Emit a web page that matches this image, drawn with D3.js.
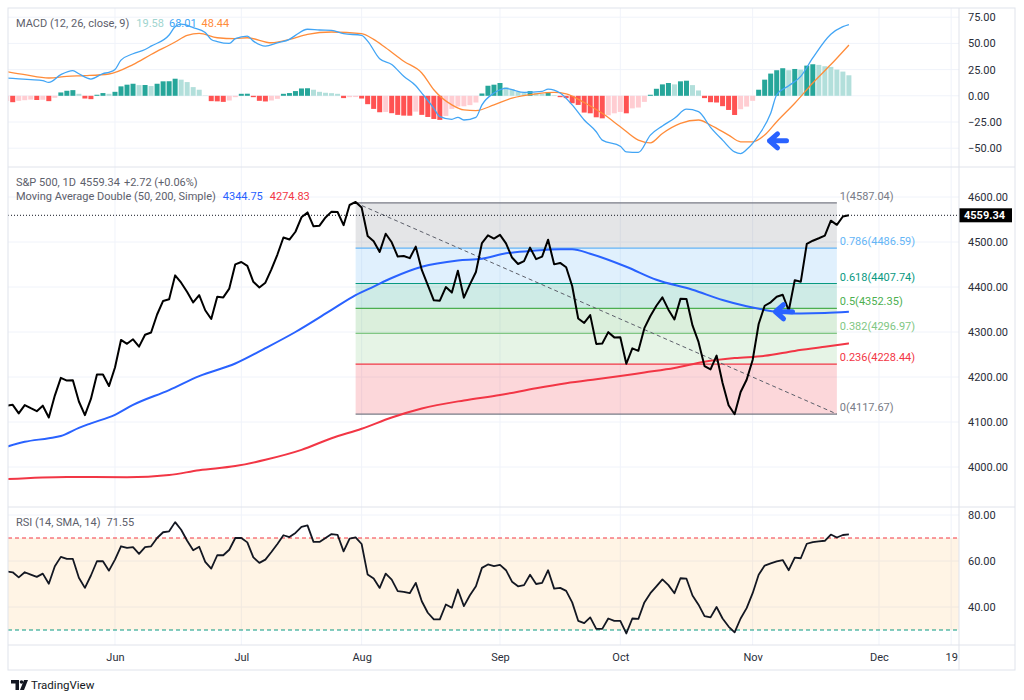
<!DOCTYPE html>
<html>
<head>
<meta charset="utf-8">
<script src="https://cdn.jsdelivr.net/npm/d3@7"></script>
<style>
  body { margin: 0; background: #fff; }
  svg text { font-family: Roboto, "Liberation Sans", sans-serif; }
</style>
</head>
<body>
<div class="chart"></div>
<script>
// Data: one bar per trading day, bar 0 = 2023-05-05, bar 140 = 2023-11-24
var closes = [
  4136.25, 4138.12, 4119.17, 4137.64, 4130.62, 4124.08, 4136.28, 4109.90, 4158.77, 4198.05,
  4191.98, 4192.63, 4145.58, 4115.24, 4151.28, 4205.45, 4205.52, 4179.83,
  4221.02, 4282.37, 4273.79, 4283.85, 4267.52, 4293.93, 4298.86, 4338.93, 4369.01, 4372.59,
  4425.84, 4409.59, 4388.71, 4365.69, 4381.89, 4348.33, 4328.82, 4378.41, 4376.86, 4396.44, 4450.38,
  4455.59, 4446.82, 4411.59, 4398.95, 4409.53, 4439.26, 4472.16, 4510.04, 4505.42, 4522.79,
  4554.98, 4565.72, 4534.87, 4536.34, 4554.64, 4567.46, 4566.75, 4537.41, 4582.23, 4588.96,
  4576.73, 4513.39, 4501.89, 4478.03, 4518.44, 4499.38, 4467.71, 4468.83, 4464.05, 4489.72,
  4437.86, 4404.33, 4370.36, 4369.71, 4399.77, 4387.55, 4436.01, 4376.31, 4405.71, 4433.31,
  4497.63, 4514.87, 4507.66,
  4515.77, 4496.83, 4465.48, 4451.14, 4457.49, 4487.46, 4461.90, 4467.44, 4505.10, 4450.32,
  4453.53, 4443.95, 4402.20, 4330.00, 4320.06, 4337.44, 4273.53, 4274.51, 4299.70, 4288.05,
  4288.39, 4229.45, 4263.75, 4258.19, 4308.50, 4335.66, 4358.24, 4376.95, 4349.61, 4327.78,
  4373.63, 4373.20, 4314.60, 4278.00, 4224.16, 4217.04, 4247.68, 4186.77, 4137.23, 4117.37,
  4166.82, 4193.80,
  4237.86, 4317.78, 4358.34, 4365.98, 4378.38, 4382.78, 4347.35, 4415.24, 4411.55, 4495.70,
  4502.88, 4508.24, 4514.02, 4547.38, 4538.19, 4556.62, 4559.34
];

// MACD histogram, one value per bar
var hist = [
  -5.0, -6.1, -4.8, -4.2, -3.6, -4.0, -3.8, -5.1, -1.9, 3.2,
  4.8, 5.4, 1.9, -2.6, -3.2, 1.0, 2.6, 1.9, 3.8, 9.0,
  10.6, 11.5, 10.2, 10.3, 9.3, 11.5, 13.8, 13.9, 16.3, 15.4,
  13.1, 8.3, 5.8, 0.3, -5.1, -5.3, -5.8, -4.5, -1.3, 1.9,
  2.0, -1.3, -4.8, -5.4, -4.5, -2.9, 1.9, 2.6, 4.5, 7.0,
  7.2, 5.8, 3.8, 2.9, 2.5, 1.9, -2.2, -1.3, -1.2, -2.6,
  -8.0, -12.5, -15.7, -15.4, -16.6, -18.2, -18.9, -19.0, -15.1, -18.2,
  -20.2, -22.1, -23.0, -19.2, -12.5, -10.2, -10.0, -8.9, -6.4, 2.2,
  9.6, 10.6, 12.2, 8.3, 6.4, 3.8, 2.6, 4.5, 2.6, 1.9,
  3.2, 0.6, -1.3, -2.2, -7.1, -8.7, -16.0, -16.7, -20.5, -21.5,
  -18.6, -16.7, -15.4, -16.7, -12.0, -11.2, -5.8, 1.0, 6.7, 10.9,
  12.2, 10.9, 13.8, 14.4, 10.2, 5.1, -2.2, -6.1, -6.4, -9.9,
  -13.5, -18.3, -12.8, -10.3, -4.8, 5.8, 15.4, 21.2, 24.4, 26.3,
  24.4, 25.6, 25.0, 28.8, 30.1, 29.5, 28.2, 27.6, 25.0, 23.1,
  19.58
];

// RSI, one value per bar
var rsi = [
  55.5, 55.1, 52.9, 55.1, 54.1, 53.1, 54.5, 50.1, 57.7, 61.8,
  60.9, 60.9, 52.7, 48.3, 53.7, 59.9, 59.9, 55.8, 60.6, 66.4,
  65.7, 66.0, 63.1, 66.0, 66.4, 70.0, 72.5, 72.9, 76.9, 73.6,
  68.8, 64.7, 66.2, 59.6, 56.7, 62.5, 62.5, 64.9, 70.0, 70.0,
  68.1, 61.6, 59.2, 60.6, 63.9, 67.4, 71.2, 70.4, 72.2, 74.8,
  75.5, 68.3, 68.3, 70.0, 71.7, 71.4, 64.2, 69.7, 70.3, 67.4,
  54.1, 52.4, 48.3, 54.5, 51.9, 46.9, 46.6, 46.0, 50.5, 42.5,
  37.5, 34.6, 34.6, 41.1, 39.7, 47.6, 40.4, 45.1, 49.0, 57.0,
  58.5, 57.8, 58.3, 56.0, 51.0, 49.0, 49.5, 54.0, 50.0, 50.5,
  56.0, 48.0, 48.3, 47.0, 42.0, 34.0, 33.0, 35.5, 30.5, 30.5,
  35.0, 34.0, 34.0, 28.5, 35.0, 34.8, 42.0, 46.0, 49.0, 52.0,
  49.5, 46.0, 52.5, 52.3, 45.0, 41.0, 36.0, 35.5, 40.0, 35.0,
  31.5, 29.0, 35.0, 39.5, 46.0, 54.0, 58.0, 59.0, 59.8, 60.4,
  56.0, 61.5, 61.2, 67.5, 68.2, 68.5, 68.8, 71.5, 70.2, 71.3,
  71.55
];

// [bar, value] samples
var macdPts = [
  [0, 17.0], [2, 16.2], [4, 15.4], [6, 14.4], [7, 12.8], [9, 20.2], [11, 24.0], [12, 21.0],
  [14, 16.0], [16, 21.2], [17, 22.4], [18, 25.0], [19, 34.0], [21, 40.1], [23, 44.2], [24, 47.4],
  [27, 58.0], [28, 66.0], [29, 68.3], [31, 65.1], [33, 60.3], [34, 53.8], [35, 51.8], [37, 50.0],
  [38, 54.5], [40, 57.0], [41, 52.2], [43, 47.4], [45, 50.6], [47, 53.8], [48, 57.7], [50, 63.5],
  [52, 62.8], [54, 62.5], [56, 59.3], [59, 57.7], [60, 52.2], [62, 35.3], [64, 29.8], [66, 18.6],
  [68, 9.6], [69, 2.6], [71, -11.9], [72, -19.9], [74, -22.4], [75, -20.5], [76, -23.1], [78, -20.5],
  [79, -8.7], [81, 2.6], [83, 7.1], [84, 5.8], [86, 3.2], [89, 4.2], [90, 6.4], [92, 2.6],
  [94, -8.7], [96, -23.1], [98, -34.3], [99, -42.3], [102, -48.1], [103, -53.5], [105, -54.0], [107, -37.5],
  [109, -28.8], [111, -21.5], [113, -12.8], [115, -15.1], [117, -30.1], [119, -42.3], [121, -53.5], [122, -55.1],
  [123, -51.3], [125, -37.5], [127, -16.7], [128, 1.0], [130, 9.6], [132, 18.6], [134, 36.2], [137, 58.7],
  [139, 66.0], [140, 68.01]
];
var signalPts = [
  [0, 23.1], [3, 20.2], [7, 17.0], [10, 18.6], [13, 19.2], [17, 20.8], [21, 29.8], [24, 39.4],
  [28, 51.3], [30, 57.7], [32, 59.6], [35, 55.4], [38, 54.5], [40, 55.4], [44, 50.6], [47, 53.8],
  [50, 58.7], [54, 60.9], [59, 59.3], [61, 53.8], [63, 45.8], [66, 33.0], [69, 21.8], [71, 5.8],
  [74, -8.7], [76, -13.5], [78, -14.1], [81, -8.7], [84, -2.2], [88, 1.9], [91, 3.2], [93, 1.9],
  [96, -6.4], [99, -16.7], [102, -29.5], [105, -42.3], [107, -44.9], [109, -35.9], [112, -26.3], [115, -23.1],
  [117, -27.9], [120, -37.5], [122, -43.9], [124, -43.9], [126, -37.5], [128, -24.7], [131, -7.1], [134, 12.2],
  [137, 29.8], [140, 48.44]
];
var sma50Pts = [
  [0, 4045], [3, 4056], [7, 4064], [9, 4069], [12, 4087], [14, 4097], [18, 4116], [21, 4138],
  [27, 4171], [32, 4202], [38, 4230], [43, 4264], [48, 4300], [54, 4349], [58, 4382], [61, 4401],
  [64, 4420], [69, 4445], [75, 4459], [79, 4463], [83, 4475], [87, 4480], [92, 4484], [94, 4484],
  [97, 4474], [103, 4445], [108, 4416], [114, 4394], [119, 4371], [123, 4357], [126, 4349], [129, 4343],
  [132, 4341], [136, 4342], [140, 4344.75]
];
var sma200Pts = [
  [0, 3973], [10, 3978], [20, 3977], [27, 3982], [32, 3993], [38, 4002], [43, 4016], [49, 4038],
  [54, 4064], [59, 4085], [64, 4110], [69, 4130], [76, 4148], [82, 4160], [88, 4175], [93, 4186],
  [98, 4195], [102, 4202], [106, 4210], [111, 4220], [116, 4234], [121, 4242], [126, 4247], [131, 4258],
  [136, 4267], [140, 4274.83]
];

var monthTicks = [18, 39, 59, 82, 102, 124, 145, 157];
var monthLabels = ["Jun", "Jul", "Aug", "Sep", "Oct", "Nov", "Dec", "19"];
var macdTicks = [75, 50, 25, 0, -25, -50];
var priceTicks = [4600, 4500, 4400, 4300, 4200, 4100, 4000];
var rsiTicks = [80, 60, 40];

var fibLevels = [1, 0.786, 0.618, 0.5, 0.382, 0.236, 0];
var fibPrices = [4587.04, 4486.59, 4407.74, 4352.35, 4296.97, 4228.44, 4117.67];
var fibBars = [58, 138];
var lastClose = 4559.34;

// Layout
var svgWidth = 1024;
var svgHeight = 700;
var plotLeft = 8, plotRight = 959, frameRight = 1015, frameTop = 8, frameBottom = 670;
var macdPane = {top: 8, bottom: 167};
var pricePane = {top: 167, bottom: 507};
var rsiPane = {top: 507, bottom: 645};

var gridColor = "#f0f3fa";
var borderColor = "#e0e3eb";
var textColor = "#2a2e39";
var legendColor = "#5d606b";
var fibColors = ["#787b86", "#64b5f6", "#089981", "#4caf50", "#81c784", "#f23645", "#787b86"];
var fibFills = ["rgba(120,123,134,0.2)", "rgba(100,181,246,0.2)", "rgba(8,153,129,0.2)",
  "rgba(76,175,80,0.2)", "rgba(129,199,132,0.2)", "rgba(242,54,69,0.2)"];

var svg = d3.select(".chart")
  .append("svg")
  .attr("width", svgWidth)
  .attr("height", svgHeight);

// Scales
var x = d3.scaleLinear().domain([0, 140]).range([6.7, 848.9]);
var yMacd = d3.scaleLinear().domain([-50, 75]).range([148.2, 17.2]);
var yPrice = d3.scaleLinear().domain([4000, 4600]).range([467, 197]);
var yRsi = d3.scaleLinear().domain([40, 80]).range([607, 515]);

// Clip paths for each pane
var defs = svg.append("defs");
[["clipMacd", macdPane], ["clipPrice", pricePane], ["clipRsi", rsiPane]].forEach(function(c) {
  defs.append("clipPath").attr("id", c[0])
    .append("rect")
    .attr("x", plotLeft)
    .attr("y", c[1].top)
    .attr("width", plotRight - plotLeft)
    .attr("height", c[1].bottom - c[1].top);
});

// Grid lines
function drawGrid(pane, yScale, ticks) {
  var g = svg.append("g");
  g.selectAll(".hg").data(ticks).enter().append("line")
    .attr("x1", plotLeft).attr("x2", plotRight)
    .attr("y1", d => yScale(d)).attr("y2", d => yScale(d))
    .attr("stroke", gridColor).attr("stroke-width", 1);
  g.selectAll(".vg").data(monthTicks).enter().append("line")
    .attr("x1", d => x(d)).attr("x2", d => x(d))
    .attr("y1", pane.top).attr("y2", pane.bottom)
    .attr("stroke", gridColor).attr("stroke-width", 1);
}
drawGrid(macdPane, yMacd, macdTicks);
drawGrid(pricePane, yPrice, priceTicks);
drawGrid(rsiPane, yRsi, rsiTicks);

// Right-hand axes
function drawAxis(yScale, ticks) {
  var ax = svg.append("g")
    .attr("transform", `translate(${plotRight}, 0)`)
    .call(d3.axisRight(yScale).tickValues(ticks).tickSize(0).tickPadding(9).tickFormat(d3.format(".2f")));
  ax.select(".domain").remove();
  ax.selectAll("text")
    .attr("font-family", "Roboto, sans-serif")
    .attr("font-size", 11)
    .attr("fill", textColor);
}
drawAxis(yMacd, macdTicks);
drawAxis(yPrice, priceTicks);
drawAxis(yRsi, rsiTicks);

// Time axis
var xAxis = svg.append("g")
  .attr("transform", `translate(0, ${rsiPane.bottom})`)
  .call(d3.axisBottom(x).tickValues(monthTicks).tickSize(0).tickPadding(8)
    .tickFormat(function(d, i) { return monthLabels[i]; }));
xAxis.select(".domain").remove();
xAxis.selectAll("text")
  .attr("font-family", "Roboto, sans-serif")
  .attr("font-size", 11)
  .attr("fill", textColor);

// ---- MACD pane ----
var macdG = svg.append("g").attr("clip-path", "url(#clipMacd)");
macdG.selectAll("rect.hist")
  .data(hist)
  .enter()
  .append("rect")
  .attr("class", "hist")
  .attr("x", (d, i) => x(i) - 2.5)
  .attr("width", 5)
  .attr("y", d => yMacd(Math.max(0, d)))
  .attr("height", d => Math.abs(yMacd(d) - yMacd(0)))
  .attr("fill", function(d, i) {
    var prev = i > 0 ? hist[i - 1] : d - 1;
    if (d >= 0) return d >= prev ? "#26a69a" : "#b2dfdb";
    return d >= prev ? "#ffcdd2" : "#ff5252";
  });

var macdLine = d3.line().x(d => x(d[0])).y(d => yMacd(d[1])).curve(d3.curveMonotoneX);
macdG.append("path").datum(signalPts)
  .attr("d", macdLine).attr("fill", "none").attr("stroke", "#ff8c3a").attr("stroke-width", 1.3);
macdG.append("path").datum(macdPts)
  .attr("d", macdLine).attr("fill", "none").attr("stroke", "#42a5f5").attr("stroke-width", 1.3);

// ---- Price pane ----
var priceG = svg.append("g").attr("clip-path", "url(#clipPrice)");

// Fibonacci zones
var fx0 = x(fibBars[0]), fx1 = x(fibBars[1]);
priceG.selectAll("rect.fib")
  .data(fibPrices.slice(0, -1))
  .enter()
  .append("rect")
  .attr("x", fx0)
  .attr("width", fx1 - fx0)
  .attr("y", d => yPrice(d))
  .attr("height", (d, i) => yPrice(fibPrices[i + 1]) - yPrice(d))
  .attr("fill", (d, i) => fibFills[i]);
priceG.selectAll("line.fib")
  .data(fibPrices)
  .enter()
  .append("line")
  .attr("x1", fx0).attr("x2", fx1)
  .attr("y1", d => yPrice(d)).attr("y2", d => yPrice(d))
  .attr("stroke", (d, i) => fibColors[i])
  .attr("stroke-width", 1.2);
priceG.selectAll("text.fib")
  .data(fibPrices)
  .enter()
  .append("text")
  .attr("x", fx1 + 3)
  .attr("y", d => yPrice(d) - 3)
  .attr("font-size", 11)
  .attr("fill", (d, i) => fibColors[i])
  .text((d, i) => `${fibLevels[i]}(${d.toFixed(2)})`);
// trend line of the retracement
priceG.append("line")
  .attr("x1", fx0).attr("y1", yPrice(fibPrices[0]))
  .attr("x2", fx1).attr("y2", yPrice(fibPrices[fibPrices.length - 1]))
  .attr("stroke", "#5d606b").attr("stroke-width", 1).attr("stroke-dasharray", "4,3");

// Last price dotted line
priceG.append("line")
  .attr("x1", plotLeft).attr("x2", plotRight)
  .attr("y1", yPrice(lastClose)).attr("y2", yPrice(lastClose))
  .attr("stroke", "#131722").attr("stroke-width", 1).attr("stroke-dasharray", "1,2");

// Moving averages
var maLine = d3.line().x(d => x(d[0])).y(d => yPrice(d[1])).curve(d3.curveMonotoneX);
priceG.append("path").datum(sma200Pts)
  .attr("d", maLine).attr("fill", "none").attr("stroke", "#f23645").attr("stroke-width", 2);
priceG.append("path").datum(sma50Pts)
  .attr("d", maLine).attr("fill", "none").attr("stroke", "#2962ff").attr("stroke-width", 2);

// Price line
priceG.append("path").datum(closes)
  .attr("d", d3.line().x((d, i) => x(i)).y(d => yPrice(d)))
  .attr("fill", "none")
  .attr("stroke", "#000")
  .attr("stroke-width", 2)
  .attr("stroke-linejoin", "round");

// Last price tag
var tagY = yPrice(lastClose);
svg.append("rect")
  .attr("x", plotRight).attr("y", tagY - 7)
  .attr("width", 53).attr("height", 14)
  .attr("fill", "#000");
svg.append("text")
  .attr("x", plotRight + 5).attr("y", tagY + 4)
  .attr("font-size", 11).attr("font-weight", "bold").attr("fill", "#fff")
  .text(lastClose.toFixed(2));

// ---- RSI pane ----
var rsiG = svg.append("g").attr("clip-path", "url(#clipRsi)");
rsiG.append("rect")
  .attr("x", plotLeft).attr("width", plotRight - plotLeft)
  .attr("y", yRsi(70)).attr("height", yRsi(30) - yRsi(70))
  .attr("fill", "rgba(255,152,0,0.1)");
rsiG.append("line")
  .attr("x1", plotLeft).attr("x2", plotRight)
  .attr("y1", yRsi(70)).attr("y2", yRsi(70))
  .attr("stroke", "#f23645").attr("stroke-dasharray", "4,3");
rsiG.append("line")
  .attr("x1", plotLeft).attr("x2", plotRight)
  .attr("y1", yRsi(30)).attr("y2", yRsi(30))
  .attr("stroke", "#089981").attr("stroke-dasharray", "4,3");
rsiG.append("path").datum(rsi)
  .attr("d", d3.line().x((d, i) => x(i)).y(d => yRsi(d)))
  .attr("fill", "none")
  .attr("stroke", "#131722")
  .attr("stroke-width", 1.8)
  .attr("stroke-linejoin", "round");

// Blue annotation arrows
function drawArrow(px, py) {
  svg.append("path")
    .attr("d", `M${px + 8},${py - 7} L${px},${py} L${px + 8},${py + 7} M${px},${py} L${px + 17},${py}`)
    .attr("fill", "none")
    .attr("stroke", "#2962ff")
    .attr("stroke-width", 5)
    .attr("stroke-linecap", "round")
    .attr("stroke-linejoin", "round");
}
drawArrow(x(126.8), yMacd(-43));
drawArrow(x(127.8), yPrice(4345));

// Frame and pane separators
svg.append("rect")
  .attr("x", plotLeft).attr("y", frameTop)
  .attr("width", frameRight - plotLeft).attr("height", frameBottom - frameTop)
  .attr("fill", "none").attr("stroke", borderColor);
[macdPane.bottom, pricePane.bottom, rsiPane.bottom].forEach(function(yy) {
  svg.append("line")
    .attr("x1", plotLeft).attr("x2", frameRight)
    .attr("y1", yy).attr("y2", yy)
    .attr("stroke", borderColor);
});
svg.append("line")
  .attr("x1", plotRight).attr("x2", plotRight)
  .attr("y1", frameTop).attr("y2", frameBottom)
  .attr("stroke", borderColor);

// Legends
function legend(yy, parts) {
  var t = svg.append("text").attr("x", 16).attr("y", yy).attr("font-size", 11);
  parts.forEach(function(p, i) {
    t.append("tspan").attr("dx", i === 0 ? 0 : p[2]).attr("fill", p[1]).text(p[0]);
  });
}
legend(26.5, [["MACD (12, 26, close, 9)", legendColor], ["19.58", "#9fd5cf", 7], ["68.01", "#42a5f5", 5], ["48.44", "#ff8c3a", 5]]);
legend(185.5, [["S&P 500, 1D", legendColor], ["4559.34", legendColor, 4], ["+2.72 (+0.06%)", legendColor, 4]]);
legend(200, [["Moving Average Double (50, 200, Simple)", legendColor], ["4344.75", "#2962ff", 7], ["4274.83", "#f23645", 7]]);
legend(525.5, [["RSI (14, SMA, 14)", legendColor], ["71.55", legendColor, 6]]);

// TradingView logo
var logo = svg.append("g").attr("fill", "#131722");
logo.append("path").attr("d", "M11,680 h8 v10 h-3.5 v-6.5 h-4.5 z");
logo.append("circle").attr("cx", 21.5).attr("cy", 682).attr("r", 1.8);
logo.append("path").attr("d", "M24,680 h4 l-4,10 h-4 z");
logo.append("text")
  .attr("x", 31).attr("y", 689)
  .attr("font-size", 11.5)
  .attr("fill", "#131722")
  .text("TradingView");
</script>
</body>
</html>
